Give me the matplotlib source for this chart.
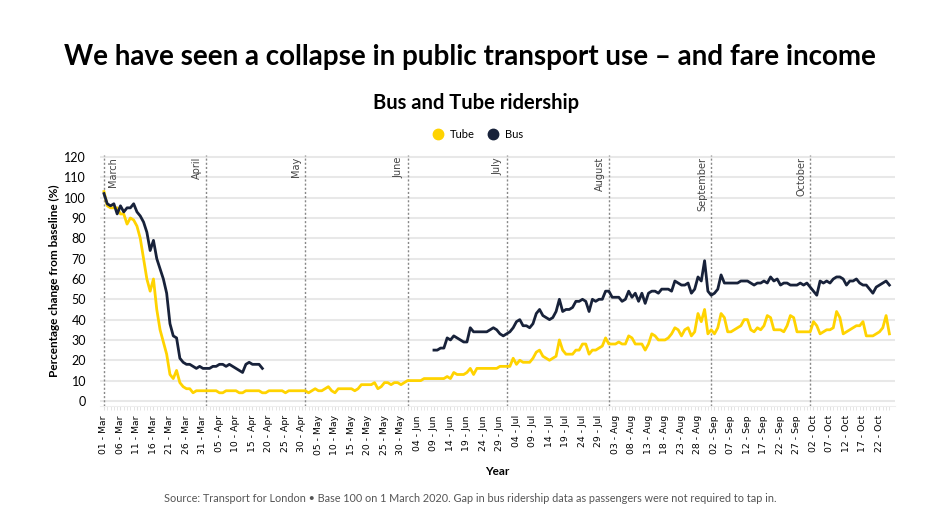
import numpy as np
import pandas as pd
import matplotlib
matplotlib.use("Agg")
import matplotlib.pyplot as plt
from matplotlib.lines import Line2D

# daily ridership, % of baseline (100 = 1 March 2020)
tube = [
    103, 96, 95, 95, 95, 92, 92, 87, 90, 89,
    86, 80, 70, 60, 54, 60, 45, 35, 29, 23,
    13, 11, 15, 9, 7, 6, 6, 4, 5, 5,
    5, 5, 5, 5, 5, 4, 4, 5, 5, 5,
    5, 4, 4, 5, 5, 5, 5, 5, 4, 4,
    5, 5, 5, 5, 5, 4, 5, 5, 5, 5,
    5, 5, 4, 5, 6, 5, 5, 6, 7, 5,
    4, 6, 6, 6, 6, 6, 5, 6, 8, 8,
    8, 8, 9, 6, 7, 9, 9, 8, 9, 9,
    8, 9, 10, 10, 10, 10, 10, 11, 11, 11,
    11, 11, 11, 11, 12, 11, 14, 13, 13, 13,
    14, 16, 13, 16, 16, 16, 16, 16, 16, 16,
    17, 17, 17, 17, 21, 18, 20, 19, 19, 19,
    21, 24, 25, 22, 21, 20, 21, 22, 30, 25,
    23, 23, 23, 25, 25, 28, 28, 23, 25, 25,
    26, 27, 31, 28, 28, 28, 29, 28, 28, 32,
    31, 28, 28, 28, 25, 28, 33, 32, 30, 30,
    30, 31, 33, 36, 35, 32, 35, 36, 32, 34,
    43, 39, 45, 33, 35, 33, 36, 43, 41, 34,
    34, 35, 36, 37, 40, 40, 35, 34, 36, 35,
    37, 42, 41, 35, 35, 35, 34, 37, 42, 41,
    34, 34, 34, 34, 34, 39, 37, 33, 34, 35,
    35, 36, 44, 41, 33, 34, 35, 36, 37, 37,
    39, 32, 32, 32, 33, 34, 36, 42, 33,
]

# bus: two runs, gap while passengers did not tap in
bus_spring = [
    102, 97, 96, 97, 92, 96, 93, 95, 95, 97,
    93, 91, 88, 83, 74, 79, 70, 65, 60, 53,
    38, 32, 31, 21, 19, 18, 18, 17, 16, 17,
    16, 16, 16, 17, 17, 18, 18, 17, 18, 17,
    16, 15, 14, 18, 19, 18, 18, 18, 16,
]
bus_summer = [
    25, 25, 26, 26, 31, 30, 32, 31, 30, 29,
    29, 36, 34, 34, 34, 34, 34, 35, 36, 35,
    33, 32, 33, 34, 36, 39, 40, 37, 37, 36,
    38, 43, 45, 42, 41, 40, 41, 44, 50, 44,
    45, 45, 46, 49, 49, 50, 49, 44, 50, 49,
    50, 50, 54, 54, 51, 51, 51, 49, 50, 54,
    51, 53, 49, 53, 48, 53, 54, 54, 53, 55,
    55, 55, 54, 59, 58, 57, 57, 58, 53, 55,
    61, 59, 69, 54, 52, 53, 55, 62, 58, 58,
    58, 58, 58, 59, 59, 59, 58, 57, 58, 58,
    59, 58, 61, 59, 60, 57, 58, 58, 57, 57,
    57, 58, 57, 58, 56, 54, 52, 59, 58, 59,
    58, 60, 61, 61, 60, 57, 59, 59, 60, 58,
    57, 57, 55, 53, 56, 57, 58, 59, 57,
]

months = ["March", "April", "May", "June", "July", "August", "September", "October"]

TUBE = "#ffd300"
BUS = "#18223a"

dates = pd.date_range("2020-03-01", periods=len(tube))
bus_spring_dates = pd.date_range("2020-03-01", periods=len(bus_spring))
bus_summer_dates = pd.date_range("2020-06-09", periods=len(bus_summer))
month_starts = pd.date_range("2020-03-01", periods=len(months), freq="MS")

fig = plt.figure(figsize=(9.4, 5.29), dpi=100)
ax = fig.add_axes([100 / 940, 1 - 406 / 529, 795 / 940, 251 / 529])

ax.plot(dates, tube, color=TUBE, lw=2, zorder=3)
ax.plot(bus_spring_dates, bus_spring, color=BUS, lw=2, zorder=4)
ax.plot(bus_summer_dates, bus_summer, color=BUS, lw=2, zorder=4)

# month markers
for i, (d, name) in enumerate(zip(month_starts, months)):
    ax.axvline(d, color="#888888", lw=1, ls=(0, (1.5, 1.5)), zorder=2)
    if i == 0:
        ax.text(d + pd.Timedelta(days=1.2), 120, name, rotation=90, ha="left", va="top",
                fontsize=7, color="#444444")
    else:
        ax.text(d - pd.Timedelta(days=1.2), 120, name, rotation=90, ha="right", va="top",
                fontsize=7, color="#444444")

ax.set_xlim(dates[0] - pd.Timedelta(days=1.2), dates[0] + pd.Timedelta(days=239.7))
ax.set_ylim(-2.5, 121)
ax.set_yticks(range(0, 121, 10))
ax.yaxis.grid(True, color="#e8e8e8", lw=1.5)
ax.set_axisbelow(True)

ax.set_xticks(dates[::5])
ax.set_xticklabels([d.strftime("%d - %b") for d in dates[::5]], rotation=90, fontsize=6.7)
ax.set_xticks(dates, minor=True)
ax.tick_params(axis="x", which="both", length=3, color="#e0e0e0")
ax.tick_params(axis="y", length=0, labelsize=9, pad=10)
for lab in ax.get_yticklabels():
    lab.set_fontfamily("Lato")

for s in ["top", "right", "left"]:
    ax.spines[s].set_visible(False)
ax.spines["bottom"].set_color("#eeeeee")

ax.set_ylabel("Percentage change from baseline (%)", fontsize=8.5, fontweight="bold",
              family="Lato", labelpad=3)
ax.set_xlabel("Year", fontsize=8.5, fontweight="bold", family="Lato", labelpad=8)

fig.text(0.5, 1 - 57 / 529, "We have seen a collapse in public transport use \u2013 and fare income",
         ha="center", va="center", fontsize=20, fontweight="bold", family="Lato", color="#000000")
fig.text(0.506, 1 - 103 / 529, "Bus and Tube ridership", ha="center", va="center",
         fontsize=14.5, fontweight="bold", family="Lato", color="#000000")
fig.text(0.5, 1 - 498 / 529,
         "Source: Transport for London \u2022 Base 100 on 1 March 2020. Gap in bus ridership data as passengers were not required to tap in.",
         ha="center", va="center", fontsize=7.8, family="Lato", color="#555555")

handles = [Line2D([], [], ls="none", marker="o", ms=7.5, color=TUBE),
           Line2D([], [], ls="none", marker="o", ms=7.5, color=BUS)]
fig.legend(handles, ["Tube", "Bus"], loc="center", bbox_to_anchor=(0.505, 1 - 134 / 529),
           ncol=2, frameon=False, handletextpad=0.1, columnspacing=0.6,
           prop={"family": "Lato", "size": 8})

fig.savefig("out.png", dpi=100)
